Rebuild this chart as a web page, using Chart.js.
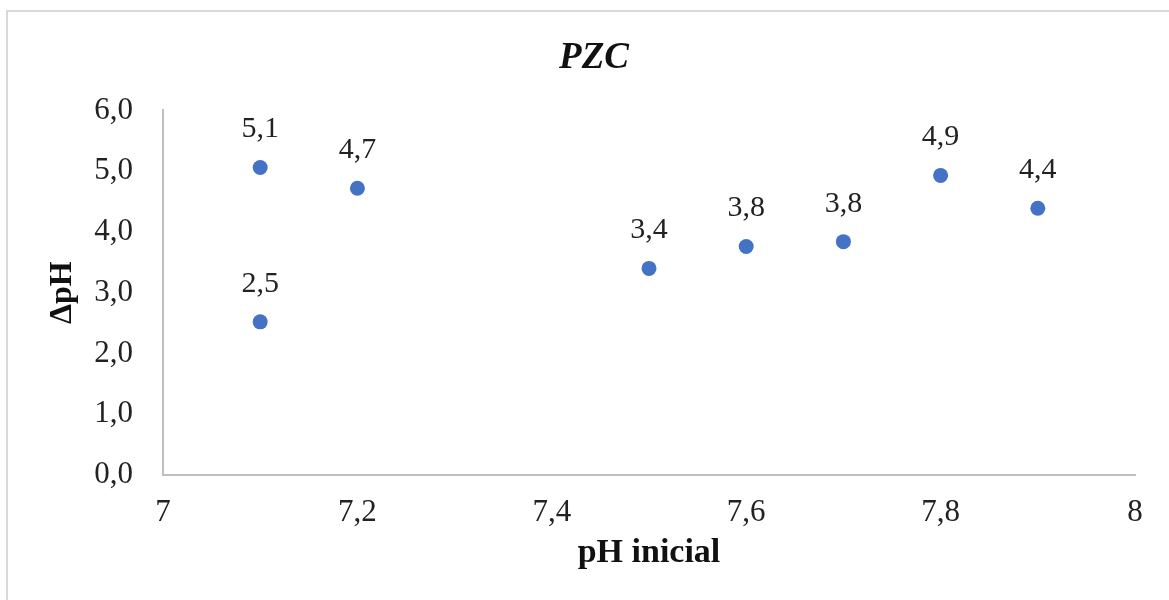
<!DOCTYPE html>
<html>
<head>
<meta charset="utf-8">
<title>PZC</title>
<script src="https://cdn.jsdelivr.net/npm/chart.js@4"></script>
<style>
  html, body { margin: 0; padding: 0; background: #fff; overflow: hidden; }
  #frame {
    position: absolute; left: 6px; top: 10px; width: 1300px; height: 700px;
    border: 2px solid #d9d9d9; box-sizing: border-box;
  }
  #pzc-chart { position: absolute; left: 0; top: 0; }
</style>
</head>
<body>
<div id="frame"></div>
<canvas id="pzc-chart" width="1169" height="600"></canvas>
<script>
const phInicial = [7.1, 7.1, 7.2, 7.5, 7.6, 7.7, 7.8, 7.9];
const deltaPh = [5.06, 2.52, 4.72, 3.40, 3.76, 3.84, 4.93, 4.39];
const pointLabels = ['5,1', '2,5', '4,7', '3,4', '3,8', '3,8', '4,9', '4,4'];

const serif = "'Liberation Serif', 'Times New Roman', serif";
const axisColor = '#bfbfbf';

// draws the value above each point, like the Excel data labels
const valueLabels = {
  id: 'valueLabels',
  afterDatasetsDraw(chart) {
    const ctx = chart.ctx;
    const meta = chart.getDatasetMeta(0);
    ctx.save();
    ctx.font = '30px ' + serif;
    ctx.fillStyle = '#222';
    ctx.textAlign = 'center';
    ctx.textBaseline = 'middle';
    meta.data.forEach((pt, i) => {
      ctx.fillText(pointLabels[i], pt.x, pt.y - 38);
    });
    ctx.restore();
  },
};

const comma = (v, digits) => {
  const s = digits === undefined ? String(Math.round(v * 10) / 10) : v.toFixed(digits);
  return s.replace('.', ',');
};

new Chart(document.getElementById('pzc-chart'), {
  type: 'scatter',
  data: {
    datasets: [{
      data: phInicial.map((x, i) => ({x: x, y: deltaPh[i]})),
      backgroundColor: '#4472C4',
      borderWidth: 0,
      pointRadius: 7.5,
      pointHoverRadius: 7.5,
    }],
  },
  options: {
    responsive: false,
    animation: false,
    devicePixelRatio: 1,
    layout: {
      padding: {left: 53, right: 34, top: 0, bottom: 0},
    },
    scales: {
      x: {
        type: 'linear',
        min: 7,
        max: 8,
        afterFit(scale) { scale.height = 125; },
        grid: {display: false, drawTicks: false},
        border: {color: axisColor, width: 2},
        ticks: {
          stepSize: 0.2,
          padding: 19,
          color: '#222',
          font: {family: serif, size: 31},
          callback: (v) => comma(v),
        },
        title: {
          display: true,
          text: 'pH inicial',
          color: '#111',
          font: {family: serif, size: 34, weight: 'bold'},
          padding: {top: 0, bottom: 26},
        },
      },
      y: {
        min: 0,
        max: 6,
        afterFit(scale) { scale.width = 110; },
        grid: {display: false, drawTicks: false},
        border: {color: axisColor, width: 2},
        ticks: {
          stepSize: 1,
          padding: 30,
          color: '#222',
          font: {family: serif, size: 31},
          callback: (v) => comma(v, 1),
        },
        title: {
          display: true,
          text: 'ΔpH',
          color: '#111',
          font: {family: serif, size: 32, weight: 'bold'},
          padding: {top: -9, bottom: 0},
        },
      },
    },
    plugins: {
      legend: {display: false},
      tooltip: {enabled: false},
      title: {
        display: true,
        text: 'PZC',
        color: '#111',
        font: {family: serif, size: 37, weight: 'bold', style: 'italic'},
        padding: {top: 36, bottom: 30},
      },
    },
  },
  plugins: [valueLabels],
});
</script>
</body>
</html>
